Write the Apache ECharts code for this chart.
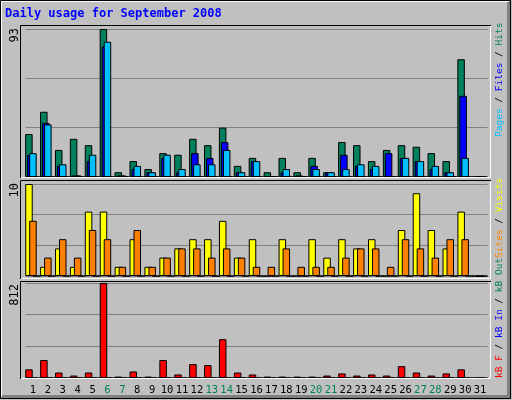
<!DOCTYPE html>
<html>
<head>
<meta charset="utf-8">
<script src="https://cdn.jsdelivr.net/npm/echarts@6/dist/echarts.min.js"></script>
<style>
  html, body { margin: 0; padding: 0; background: #c0c0c0; }
  #chart { width: 512px; height: 400px; }
</style>
</head>
<body>
<div id="chart"></div>
<script>
const days = Array.from({ length: 31 }, (_, i) => String(i + 1))
const weekends = [6, 7, 13, 14, 20, 21, 27, 28]

const hits = [27, 41, 17, 24, 20, 93, 3, 10, 5, 15, 14, 24, 20, 31, 7, 12, 3, 12, 3, 12, 3, 22, 20, 10, 17, 20, 19, 15, 10, 74, 0]
const files = [14, 34, 7, 1, 10, 82, 1, 5, 3, 12, 3, 15, 12, 22, 3, 10, 0, 3, 1, 7, 3, 14, 7, 5, 15, 12, 10, 5, 3, 51, 0]
const pages = [15, 33, 8, 1, 14, 85, 1, 7, 3, 14, 5, 8, 8, 17, 3, 10, 0, 5, 0, 5, 3, 5, 8, 7, 0, 12, 10, 7, 3, 12, 0]
const visits = [10, 1, 3, 1, 7, 7, 1, 4, 1, 2, 3, 4, 4, 6, 2, 4, 0, 4, 0, 4, 2, 4, 3, 4, 0, 5, 9, 5, 3, 7, 0]
const sites = [6, 2, 4, 2, 5, 4, 1, 5, 1, 2, 3, 3, 2, 3, 2, 1, 1, 3, 1, 1, 1, 2, 3, 3, 1, 4, 3, 2, 4, 4, 0]
const kbF = [74, 154, 47, 21, 47, 812, 12, 56, 12, 154, 30, 119, 110, 332, 47, 30, 12, 12, 12, 12, 21, 39, 21, 30, 21, 101, 47, 21, 39, 74, 0]
const empty = days.map(() => 0)

const font = '"DejaVu Sans Mono", monospace'
const panels = [
  { top: 29, height: 148, max: 93 },
  { top: 184, height: 92, max: 10 },
  { top: 283, height: 95, max: 812 }
]

const grids = panels.map(p => ({ left: 25.5, width: 462, top: p.top, height: p.height }))
const xAxes = panels.map((p, i) => ({
  type: 'category',
  gridIndex: i,
  data: days,
  axisLine: { show: false },
  axisTick: { show: false },
  axisLabel: i === 2
    ? {
        show: true,
        margin: 7,
        fontFamily: font,
        fontSize: 10.5,
        interval: 0,
        color: (v) => weekends.includes(+v) ? '#00805c' : '#000'
      }
    : { show: false }
}))
const yAxes = panels.map((p, i) => ({
  type: 'value',
  gridIndex: i,
  min: 0,
  max: p.max,
  interval: p.max / 3,
  axisLabel: { show: false },
  axisLine: { show: false },
  splitLine: { lineStyle: { color: '#808080', width: 1 } }
}))

function bar (data, color, idx, width, gap) {
  return {
    type: 'bar',
    data,
    xAxisIndex: idx,
    yAxisIndex: idx,
    barWidth: width,
    barGap: gap,
    silent: true,
    animation: false,
    itemStyle: { color, borderColor: '#000', borderWidth: 1 }
  }
}

const series = [
  bar(hits, '#00805c', 0, 7.5, '-73%'),
  bar(files, '#0000ff', 0, 7.5, '-73%'),
  bar(pages, '#00c0ff', 0, 7.5, '-73%'),
  bar(empty, 'transparent', 0, 7.5, '-73%'),
  bar(empty, 'transparent', 0, 7.5, '-73%'),
  bar(visits, '#ffff00', 1, 7.5, '-47%'),
  bar(sites, '#ff8000', 1, 7.5, '-47%'),
  bar(empty, 'transparent', 1, 7.5, '-47%'),
  bar(kbF, '#ff0000', 2, 7.5, '-47%'),
  bar(empty, 'transparent', 2, 7.5, '-47%'),
  bar(empty, 'transparent', 2, 7.5, '-47%')
]

// frames and rotated labels
const graphic = [
  { type: 'rect', shape: { x: 0.5, y: 0.5, width: 510, height: 398 }, style: { fill: 'none', stroke: '#000', lineWidth: 1 }, z: 10 },
  { type: 'line', shape: { x1: 1.5, y1: 1.5, x2: 509, y2: 1.5 }, style: { stroke: '#fff' }, z: 10 },
  { type: 'line', shape: { x1: 1.5, y1: 1.5, x2: 1.5, y2: 397 }, style: { stroke: '#fff' }, z: 10 },
  { type: 'rect', shape: { x: 507, y: 1, width: 4, height: 398 }, style: { fill: '#808080' }, z: 9 },
  { type: 'rect', shape: { x: 1, y: 395, width: 510, height: 4 }, style: { fill: '#808080' }, z: 9 },
  { type: 'text', left: 5, top: 8, style: { text: 'Daily usage for September 2008', fill: '#0000ff', font: 'bold 12px ' + font } }
]
const frames = [[25, 178], [180, 279], [281, 379]]
frames.forEach(([y1, y2]) => {
  graphic.push({ type: 'polyline', shape: { points: [[20.5, y2], [20.5, y1 + 0.5], [491, y1 + 0.5]] }, style: { stroke: '#000', fill: 'none' }, z: 5 })
  graphic.push({ type: 'polyline', shape: { points: [[21, y2 - 0.5], [490.5, y2 - 0.5], [490.5, y1 + 1]] }, style: { stroke: '#fff', fill: 'none' }, z: 5 })
})
const maxLabels = [['93', 25], ['10', 180], ['812', 281]]
maxLabels.forEach(([t, y]) => {
  graphic.push({
    type: 'text', x: 9, y: y + 3, rotation: Math.PI / 2,
    style: { text: t, fill: '#000', font: '12px ' + font, align: 'right', verticalAlign: 'top' }
  })
})
const sf = '9.5px ' + font
const rich = {
  g: { fill: '#00805c', font: sf },
  b: { fill: '#0000ff', font: sf },
  c: { fill: '#00c0ff', font: sf },
  y: { fill: '#ffff00', font: sf },
  o: { fill: '#ff8000', font: sf },
  r: { fill: '#ff0000', font: sf },
  k: { fill: '#000', font: sf }
}
const sideLabels = [
  ['{c|Pages}{k| / }{b|Files}{k| / }{g|Hits}', 137],
  ['{o|Sites}{k| / }{y|Visits}', 258],
  ['{r|kB F}{k| / }{b|kB In}{k| / }{g|kB Out}', 378]
]
sideLabels.forEach(([t, y]) => {
  graphic.push({
    type: 'text', x: 495, y, rotation: Math.PI / 2,
    style: { text: t, rich, align: 'left', verticalAlign: 'top', font: sf }
  })
})

const chart = echarts.init(document.getElementById('chart'), null, { renderer: 'canvas' })
chart.setOption({
  backgroundColor: '#c0c0c0',
  animation: false,
  grid: grids,
  xAxis: xAxes,
  yAxis: yAxes,
  series,
  graphic
})
</script>
</body>
</html>
